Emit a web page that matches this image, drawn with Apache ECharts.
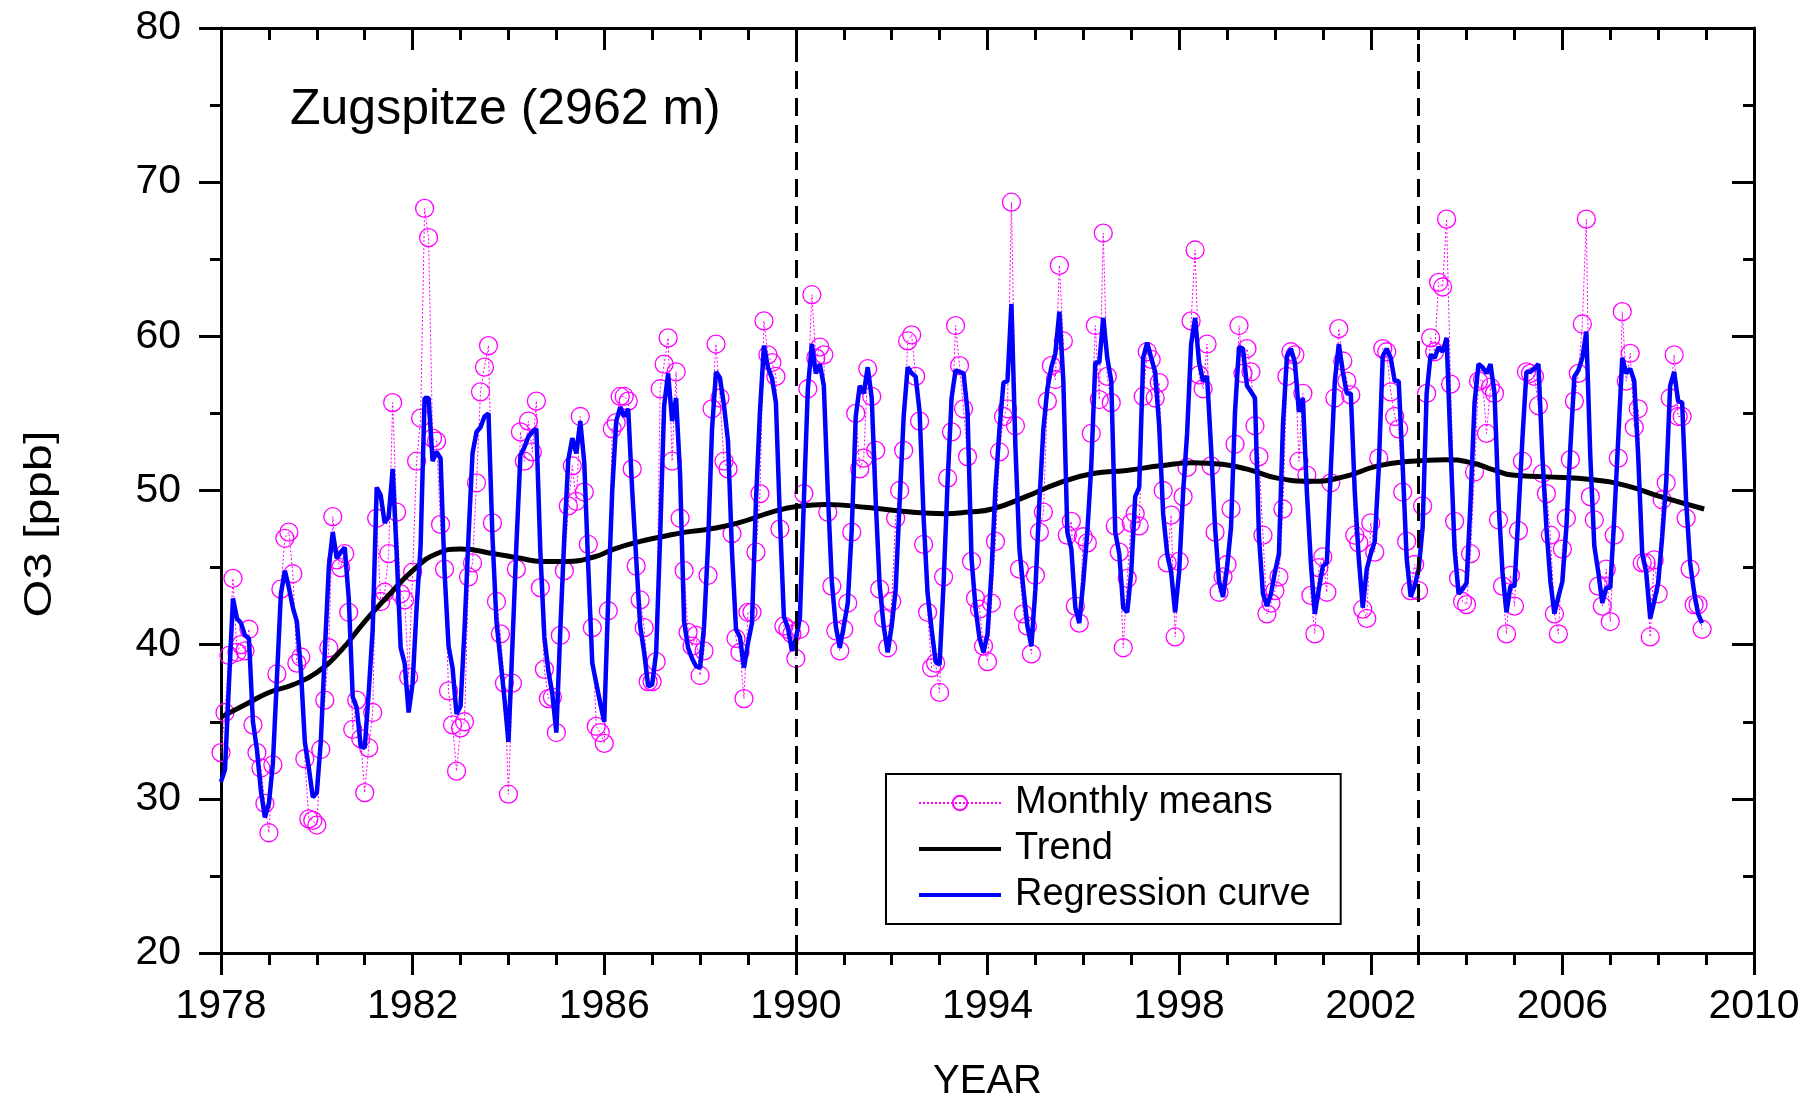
<!DOCTYPE html>
<html>
<head>
<meta charset="utf-8">
<script src="https://cdn.jsdelivr.net/npm/echarts@6/dist/echarts.min.js"></script>
<style>
  html, body { margin: 0; padding: 0; background: #fff; }
  #chart { width: 1814px; height: 1100px; }
</style>
</head>
<body>
<div id="chart"></div>
<script>
const START_YEAR = 1978
const FONT = 'Liberation Sans, Arial, sans-serif'

// monthly means, one row per year (Jan..Dec), 1978-2008
const monthlyMeans = [
  [33.0, 35.6, 39.3, 44.3, 39.5, 40.0, 39.6, 41.0, 34.8, 33.0, 32.0, 29.7],
  [27.8, 32.2, 38.1, 43.6, 46.9, 47.3, 44.6, 38.8, 39.2, 32.6, 28.7, 28.6],
  [28.3, 33.2, 36.4, 39.8, 48.3, 45.5, 45.0, 45.9, 42.1, 34.5, 36.4, 33.9],
  [30.4, 33.3, 35.6, 48.2, 42.8, 43.4, 45.9, 55.7, 48.6, 43.3, 42.9, 37.9],
  [44.7, 51.9, 54.7, 68.3, 66.4, 53.4, 53.2, 47.8, 44.9, 37.0, 34.8, 31.8],
  [34.6, 35.0, 44.4, 45.3, 50.5, 56.4, 58.0, 59.4, 47.9, 42.8, 40.7, 37.5],
  [30.3, 37.5, 44.9, 53.8, 51.9, 54.5, 52.5, 55.8, 43.7, 38.4, 36.5, 36.6],
  [34.3, 40.6, 44.8, 49.0, 51.6, 49.3, 54.8, 49.9, 46.5, 41.1, 34.7, 34.3],
  [33.6, 42.2, 54.0, 54.4, 56.1, 56.1, 55.8, 51.4, 45.1, 42.9, 41.1, 37.6],
  [37.6, 38.9, 56.6, 58.2, 59.9, 51.9, 57.7, 48.2, 44.8, 40.8, 39.9, 40.6],
  [38.0, 39.6, 44.5, 55.3, 59.5, 56.0, 51.9, 51.4, 47.2, 40.4, 39.5, 36.5],
  [42.1, 42.1, 46.0, 49.8, 61.0, 58.8, 58.3, 57.4, 47.5, 41.2, 41.0, 40.7],
  [39.1, 41.0, 49.8, 56.6, 62.7, 58.6, 59.3, 58.8, 48.6, 43.8, 40.9, 39.6],
  [41.0, 42.7, 47.3, 55.0, 51.4, 52.1, 57.9, 56.1, 52.6, 43.6, 41.7, 39.8],
  [42.8, 48.2, 50.0, 52.6, 59.7, 60.1, 57.4, 54.5, 46.5, 42.1, 38.5, 38.8],
  [36.9, 44.4, 50.8, 53.8, 60.7, 58.1, 55.3, 52.2, 45.4, 43.0, 42.3, 39.9],
  [38.9, 42.7, 46.7, 52.5, 54.8, 55.3, 68.7, 54.2, 44.9, 42.0, 41.2, 39.4],
  [44.5, 47.3, 48.6, 55.8, 58.1, 57.2, 64.6, 59.7, 47.1, 48.0, 42.5, 41.4],
  [47.0, 46.6, 53.7, 60.7, 55.9, 66.7, 57.4, 55.7, 47.7, 46.0, 39.8, 44.3],
  [47.9, 48.5, 47.7, 56.1, 59.0, 58.5, 56.0, 57.0, 50.0, 45.3, 48.4, 40.5],
  [45.4, 49.6, 51.5, 61.0, 65.6, 57.5, 56.6, 59.5, 51.6, 47.3, 43.4, 44.4],
  [45.2, 48.8, 53.0, 60.7, 57.6, 59.2, 57.7, 54.2, 52.2, 47.1, 42.0, 42.7],
  [43.5, 44.4, 48.8, 57.4, 59.0, 58.8, 51.9, 56.3, 51.0, 43.2, 40.7, 45.0],
  [45.7, 43.4, 50.5, 56.0, 60.5, 58.4, 57.1, 56.2, 47.1, 46.6, 42.3, 41.7],
  [47.9, 46.0, 52.1, 59.2, 59.0, 56.4, 54.8, 54.0, 49.9, 46.7, 43.5, 45.2],
  [43.5, 49.0, 56.3, 59.9, 59.0, 63.5, 63.2, 67.6, 56.9, 48.0, 44.3, 42.8],
  [42.6, 45.9, 51.2, 57.1, 57.2, 53.7, 56.7, 56.3, 48.1, 43.8, 40.7, 44.5],
  [42.5, 47.4, 51.9, 57.7, 57.6, 57.4, 55.5, 51.1, 49.8, 47.1, 42.0, 40.7],
  [46.2, 48.2, 52.0, 55.8, 57.6, 60.8, 67.6, 49.6, 48.1, 43.8, 42.5, 44.9],
  [41.5, 47.1, 52.1, 61.6, 57.1, 58.9, 54.1, 55.3, 45.3, 45.3, 40.5, 45.5],
  [43.3, 49.4, 50.5, 56.0, 58.8, 54.8, 54.8, 48.2, 44.9, 42.6, 42.6, 41.0]
]

// regression curve, one row per year (Jan..Dec)
const regression = [
  [31.1, 31.9, 37.5, 43.0, 41.7, 41.4, 40.6, 40.4, 35.0, 33.2, 30.5, 28.8],
  [29.7, 32.3, 37.8, 43.3, 44.8, 43.7, 42.4, 41.5, 38.4, 33.7, 32.0, 30.1],
  [30.4, 33.7, 39.5, 45.0, 47.3, 45.6, 46.0, 46.3, 43.0, 36.6, 35.9, 33.4],
  [33.3, 36.9, 41.0, 50.2, 49.7, 47.9, 48.3, 51.4, 45.9, 39.8, 38.8, 35.6],
  [37.5, 42.4, 46.4, 56.0, 56.0, 51.9, 52.5, 52.1, 44.7, 39.9, 38.5, 35.5],
  [36.0, 41.0, 47.0, 52.4, 53.8, 54.1, 54.8, 55.0, 47.0, 41.5, 39.0, 36.5],
  [33.7, 40.0, 46.5, 52.3, 52.8, 53.5, 53.8, 54.0, 46.0, 40.5, 38.3, 36.8],
  [34.3, 41.0, 47.0, 52.0, 53.4, 52.4, 54.5, 51.8, 45.0, 38.8, 37.5, 36.2],
  [35.0, 43.0, 50.0, 54.5, 55.4, 54.8, 55.3, 50.0, 45.6, 41.2, 39.5, 37.3],
  [37.4, 39.5, 47.0, 55.5, 57.6, 54.5, 56.0, 51.0, 41.5, 39.8, 39.1, 38.6],
  [38.5, 41.2, 46.5, 54.0, 57.7, 57.3, 55.5, 53.2, 46.0, 41.0, 40.5, 38.5],
  [40.1, 41.4, 49.3, 55.1, 59.4, 58.0, 57.3, 55.7, 48.2, 41.8, 41.1, 39.6],
  [40.4, 41.7, 49.3, 56.6, 59.5, 57.6, 58.2, 56.8, 49.9, 44.1, 41.2, 39.8],
  [41.2, 42.7, 47.5, 54.8, 56.8, 56.3, 58.0, 56.0, 49.3, 43.8, 41.2, 39.5],
  [41.2, 43.6, 49.3, 54.8, 58.0, 57.6, 57.4, 55.1, 48.2, 43.3, 41.0, 38.9],
  [38.7, 44.0, 50.5, 56.0, 57.8, 57.7, 57.6, 55.1, 45.6, 42.4, 40.4, 39.5],
  [40.7, 44.7, 50.2, 54.0, 57.0, 57.1, 62.1, 52.8, 46.2, 43.6, 41.2, 39.9],
  [43.6, 49.3, 54.0, 56.6, 58.0, 58.9, 61.6, 57.1, 47.3, 46.2, 42.4, 41.4],
  [44.1, 47.3, 51.6, 58.3, 58.3, 61.2, 58.6, 57.1, 47.3, 45.9, 42.4, 42.1],
  [44.7, 49.6, 50.2, 58.6, 59.6, 58.6, 57.7, 54.2, 48.5, 45.9, 44.7, 42.1],
  [44.7, 49.9, 53.7, 59.5, 61.2, 58.3, 57.1, 57.4, 52.8, 47.6, 44.1, 43.1],
  [45.0, 47.6, 55.1, 59.3, 59.2, 56.8, 56.4, 56.0, 47.0, 43.3, 42.5, 43.3],
  [44.7, 45.9, 54.2, 58.7, 59.2, 58.3, 55.1, 56.0, 49.9, 45.3, 42.0, 43.6],
  [45.1, 45.3, 51.4, 57.1, 59.5, 57.7, 56.3, 56.3, 49.9, 45.6, 42.4, 44.9],
  [45.9, 46.7, 51.4, 58.7, 59.2, 58.6, 57.1, 57.1, 51.6, 45.6, 43.1, 43.8],
  [44.9, 47.6, 56.3, 58.8, 58.6, 59.3, 59.0, 59.9, 52.8, 46.2, 43.3, 43.6],
  [44.0, 49.3, 55.7, 58.2, 58.0, 57.6, 58.2, 56.3, 49.3, 44.7, 42.1, 43.8],
  [43.8, 48.5, 53.4, 57.7, 57.7, 57.9, 58.2, 52.2, 47.6, 44.1, 42.0, 43.1],
  [44.1, 47.6, 52.8, 57.4, 57.8, 58.6, 60.3, 52.2, 46.4, 44.7, 42.7, 43.7],
  [43.7, 48.2, 53.4, 58.6, 57.6, 57.9, 57.1, 52.2, 45.9, 44.7, 41.7, 42.8],
  [44.0, 47.0, 50.5, 56.8, 57.7, 55.8, 55.7, 49.3, 45.3, 43.4, 42.0, 41.4]
]

// trend, [decimal year, ppb]
const trend = [
  [1978.0, 35.3], [1978.5, 36.1], [1979.0, 36.9], [1979.5, 37.4], [1980.0, 38.2],
  [1980.5, 39.6], [1981.0, 41.5], [1981.5, 43.2], [1982.0, 44.8], [1982.5, 45.9],
  [1983.0, 46.2], [1983.7, 45.9], [1984.25, 45.6], [1984.7, 45.4], [1985.2, 45.4],
  [1985.8, 45.7], [1986.2, 46.2], [1986.75, 46.7], [1987.2, 47.0], [1987.7, 47.3],
  [1988.2, 47.5], [1988.8, 47.9], [1989.6, 48.7], [1990.1, 49.0], [1990.6, 49.1],
  [1991.5, 48.9], [1992.4, 48.6], [1993.1, 48.5], [1993.6, 48.6], [1994.1, 48.8],
  [1994.8, 49.6], [1995.5, 50.5], [1996.2, 51.1], [1996.9, 51.3], [1997.6, 51.6],
  [1998.3, 51.8], [1998.9, 51.7], [1999.4, 51.4], [2000.05, 50.8], [2000.75, 50.6],
  [2001.45, 50.9], [2002.15, 51.6], [2002.85, 51.9], [2003.55, 52.0], [2004.1, 51.8],
  [2004.6, 51.3], [2004.95, 51.0], [2005.6, 50.9], [2006.65, 50.7], [2007.35, 50.3],
  [2008.05, 49.6], [2008.96, 48.8]
]

const breakYears = [1990, 2003]

function toPoints (rows) {
  const out = []
  rows.forEach((row, i) => {
    row.forEach((v, m) => { out.push([START_YEAR + i + m / 12, v]) })
  })
  return out
}

const axisLineStyle = { color: '#000', width: 3 }
const tickStyle = { color: '#000', width: 3 }
// plain bar icon for the two solid lines in the legend
const LINE_ICON = 'path://M0,0H100V5H0Z'

const chart = echarts.init(document.getElementById('chart'))
chart.setOption({
  animation: false,
  backgroundColor: '#fff',
  // keep the plot box fixed, labels may sit close to the edge
  grid: { left: 221, right: 60, top: 28, bottom: 147, outerBoundsMode: 'none' },
  graphic: [
    {
      type: 'text',
      x: 290,
      y: 110,
      style: {
        text: 'Zugspitze (2962 m)',
        fontSize: 50,
        fontFamily: FONT,
        fill: '#000',
        verticalAlign: 'middle'
      }
    },
    {
      // y axis title, stretched along its length like the original
      type: 'text',
      x: 40,
      y: 524,
      rotation: Math.PI / 2,
      scaleX: 1.25,
      style: {
        text: 'O3 [ppb]',
        fontSize: 39,
        fontFamily: FONT,
        fill: '#000',
        align: 'center',
        verticalAlign: 'middle'
      }
    }
  ],
  legend: {
    orient: 'vertical',
    left: 886,
    top: 774,
    backgroundColor: '#fff',
    borderColor: '#000',
    borderWidth: 2,
    padding: [9, 30, 9, 32],
    itemWidth: 82,
    itemHeight: 18,
    itemGap: 6,
    textStyle: { fontSize: 38, fontFamily: FONT, color: '#000', lineHeight: 40, padding: [0, 0, 0, 9] },
    data: [
      { name: 'Monthly means' },
      { name: 'Trend', icon: LINE_ICON },
      { name: 'Regression curve', icon: LINE_ICON }
    ]
  },
  xAxis: [
    {
      type: 'value',
      min: 1978,
      max: 2010,
      interval: 4,
      position: 'bottom',
      axisLine: { show: true, onZero: false, lineStyle: axisLineStyle },
      axisTick: { show: true, length: 22, lineStyle: tickStyle },
      minorTick: { show: true, splitNumber: 4, length: 12, lineStyle: tickStyle },
      splitLine: { show: false },
      axisLabel: { fontSize: 41, fontFamily: FONT, color: '#000', margin: 33, formatter: v => String(v) },
      name: 'YEAR',
      nameLocation: 'middle',
      nameGap: 109,
      nameTextStyle: { fontSize: 40, fontFamily: FONT, color: '#000' }
    },
    {
      type: 'value',
      min: 1978,
      max: 2010,
      interval: 4,
      position: 'top',
      axisLine: { show: true, onZero: false, lineStyle: axisLineStyle },
      axisTick: { show: true, inside: true, length: 22, lineStyle: tickStyle },
      minorTick: { show: true, splitNumber: 4, length: 12, lineStyle: tickStyle },
      splitLine: { show: false },
      axisLabel: { show: false }
    }
  ],
  yAxis: [
    {
      type: 'value',
      min: 20,
      max: 80,
      interval: 10,
      position: 'left',
      axisLine: { show: true, onZero: false, lineStyle: axisLineStyle },
      axisTick: { show: true, length: 22, lineStyle: tickStyle },
      minorTick: { show: true, splitNumber: 2, length: 11, lineStyle: tickStyle },
      splitLine: { show: false },
      axisLabel: { fontSize: 41, fontFamily: FONT, color: '#000', margin: 40 }
    },
    {
      type: 'value',
      min: 20,
      max: 80,
      interval: 10,
      position: 'right',
      axisLine: { show: true, onZero: false, lineStyle: axisLineStyle },
      axisTick: { show: true, inside: true, length: 22, lineStyle: tickStyle },
      minorTick: { show: true, splitNumber: 2, length: 11, lineStyle: tickStyle },
      splitLine: { show: false },
      axisLabel: { show: false }
    }
  ],
  series: [
    {
      name: 'Monthly means',
      type: 'line',
      data: toPoints(monthlyMeans),
      symbol: 'circle',
      symbolSize: 18,
      z: 2,
      lineStyle: { color: '#ff00ff', width: 1, type: [2, 2] },
      itemStyle: { color: 'rgba(255,255,255,0)', borderColor: '#ff00ff', borderWidth: 1.3 }
    },
    {
      name: 'Trend',
      type: 'line',
      data: trend,
      smooth: true,
      symbol: 'none',
      z: 3,
      lineStyle: { color: '#000', width: 5 },
      itemStyle: { color: '#000' },
      markLine: {
        silent: true,
        symbol: 'none',
        label: { show: false },
        lineStyle: { color: '#000', width: 3, type: [18, 9] },
        data: breakYears.map(y => ({ xAxis: y }))
      }
    },
    {
      name: 'Regression curve',
      type: 'line',
      data: toPoints(regression),
      symbol: 'none',
      z: 4,
      lineStyle: { color: '#0000ff', width: 4.5 },
      itemStyle: { color: '#0000ff' }
    }
  ]
})
</script>
</body>
</html>
